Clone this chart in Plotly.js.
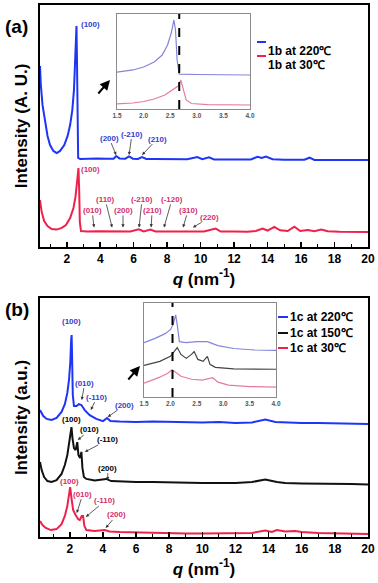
<!DOCTYPE html>
<html><head><meta charset="utf-8">
<script src="https://cdn.plot.ly/plotly-3.0.1.min.js"></script>
<style>html,body{margin:0;padding:0;background:#fff}#chart{width:378px;height:583px}</style>
</head><body><div id="chart"></div>
<script>
// ---------- Panel (a) main data ----------
const qA_220 = [0.4,0.45,0.55,0.7,0.85,1.0,1.2,1.4,1.6,1.85,2.05,2.2,2.33,2.43,2.5,2.55,2.58,2.61,2.64,2.68,2.8,3.2,3.8,4.4,4.8,4.95,5.15,5.5,5.72,5.95,6.25,6.5,6.75,7.2,7.8,8.5,9.2,9.8,10.1,10.5,10.8,11.5,12.3,13.0,13.4,13.65,13.9,14.3,15.0,15.7,16.2,16.5,16.8,17.5,18.3,19.2,20.0];
const iA_220 = [74.8,66.9,58.7,51.7,45.9,42.1,39.7,38.8,39.7,42.1,45.9,50.4,56.6,64.9,75.2,85.5,91.3,77.3,48.3,36.8,36.4,36.6,36.6,36.5,36.5,37.6,36.6,36.5,37.4,36.5,36.4,37.2,36.4,36.4,36.3,36.3,36.3,37.2,36.3,37.1,36.2,36.2,36.2,36.2,37.3,36.8,37.4,36.3,36.1,36.1,36.1,36.9,36.0,36.0,36.0,36.0,35.9];
const qA_30 = [0.4,0.5,0.65,0.85,1.1,1.4,1.7,1.95,2.2,2.4,2.52,2.62,2.7,2.74,2.78,2.85,3.2,3.8,4.5,5.2,5.8,6.3,6.6,7.0,7.3,8.0,8.8,9.5,10.2,10.9,11.2,12.0,12.8,13.3,13.7,14.0,14.4,14.75,15.2,15.6,15.95,16.4,16.8,17.2,17.6,18.3,19.2,20.0];
const iA_30 = [19.4,14.5,10.7,8.7,7.4,7.2,7.9,9.1,12.0,16.1,20.7,26.9,32.6,23.6,10.3,6.6,6.4,6.5,6.5,6.4,6.4,7.3,6.4,7.2,6.4,6.4,6.4,6.4,6.4,7.6,6.4,6.4,6.3,6.6,7.6,6.8,8.3,6.9,6.6,8.4,6.6,7.0,6.5,7.2,6.5,6.3,6.3,6.2];

// ---------- Panel (a) inset data ----------
const qAin_220 = [1.5,1.8,2.0,2.2,2.35,2.45,2.52,2.57,2.6,2.63,2.67,3.0,4.0];
const iAin_220 = [38.9,41.1,44.2,49.5,56.8,67.4,80.0,93.7,83.2,51.6,36.8,36.3,35.8];
const qAin_30 = [1.5,1.8,2.0,2.2,2.4,2.55,2.65,2.7,2.74,2.8,2.9,3.2,4.0];
const iAin_30 = [5.3,6.3,7.9,10.5,14.7,20.0,24.2,30.5,22.1,9.5,5.8,4.7,4.2];
const dashA = 2.67;

// ---------- Panel (b) main data ----------
const qB_220 = [0.2,0.4,0.6,0.9,1.2,1.5,1.7,1.85,1.95,2.03,2.08,2.11,2.14,2.18,2.25,2.4,2.55,2.7,2.9,3.2,3.6,4.0,4.25,4.45,5,6,7,8,9,10,11,12,13,13.8,14.4,15,16,17,18,19,20];
const iB_220 = [53.1,50.6,49.4,49.0,49.8,52.3,55.6,60.3,65.7,73.2,82.4,84.5,74.1,59.4,54.8,54.8,55.6,55.2,53.1,51.0,49.4,48.5,49.8,48.5,48.3,48.1,48.3,48.1,47.9,47.9,48.1,47.7,47.9,49.2,48.1,47.9,47.7,47.7,47.5,47.5,47.3];
const qB_150 = [0.2,0.3,0.45,0.65,0.9,1.2,1.5,1.7,1.85,1.97,2.05,2.1,2.16,2.25,2.35,2.45,2.52,2.62,2.7,2.76,2.85,3.0,3.5,4.2,4.5,5,6,7,8,9,10,11,12,13,13.8,14.5,15,16,17,18,19,20];
const iB_150 = [31.4,28.0,25.1,23.4,23.0,23.8,26.4,30.1,34.3,39.3,43.9,46.0,41.4,37.2,36.4,39.7,34.3,33.1,35.6,28.9,25.1,24.3,23.6,24.3,23.4,23.2,23.0,23.0,22.8,22.6,22.6,22.6,22.6,23.0,24.1,23.0,22.6,22.4,22.4,22.2,22.2,22.0];
const qB_30 = [0.2,0.35,0.55,0.85,1.2,1.5,1.7,1.85,1.95,2.02,2.1,2.2,2.35,2.5,2.6,2.72,2.8,2.88,3.0,3.5,4.1,4.4,5,6,7,8,9,10,11,12,13,13.8,14.2,14.5,15,15.6,16,17,18,20];
const iB_30 = [6.7,5.0,3.8,2.9,3.3,5.4,8.8,13.0,17.6,20.9,16.3,11.3,9.2,7.5,7.1,8.8,8.8,4.6,2.9,2.5,2.9,2.3,2.1,1.9,1.7,1.5,1.5,1.5,1.5,1.5,1.7,2.7,2.1,2.9,2.3,2.5,2.1,1.7,1.5,1.3];

// ---------- Panel (b) inset data ----------
const qBin_220 = [1.5,1.7,1.9,2.0,2.05,2.1,2.13,2.17,2.3,2.5,2.7,2.9,3.2,3.6,4.0];
const iBin_220 = [57.9,62.1,67.4,71.6,76.8,87.4,76.8,58.9,57.9,58.9,58.9,54.7,51.6,50.0,49.5];
const qBin_150 = [1.5,1.8,2.0,2.08,2.13,2.2,2.3,2.4,2.45,2.52,2.62,2.7,2.75,2.85,3.2,4.0];
const iBin_150 = [33.7,37.9,43.2,48.4,52.6,45.3,41.1,45.3,48.4,40.0,37.9,43.2,34.7,31.6,30.0,29.5];
const qBin_30 = [1.5,1.8,1.95,2.03,2.1,2.2,2.4,2.6,2.8,2.9,3.1,3.5,4.0];
const iBin_30 = [14.7,21.1,25.3,28.9,26.3,22.1,18.9,17.9,20.5,15.8,12.6,11.1,10.5];
const dashB = 2.04;

// ---------- Names / labels ----------
const namesA = ['1b at 220\u2103', '1b at 30\u2103'];
const namesB = ['1c at 220\u2103', '1c at 150\u2103', '1c at 30\u2103'];
const xTickVals = [2,4,6,8,10,12,14,16,18,20];
const insetTickVals = [1.5,2.0,2.5,3.0,3.5,4.0];

// peak index labels: [text, q, intensity]
const labA_220 = [['(200)',4.95,38.0],['(-210)',5.72,38.0],['(210)',6.50,38.0]];
const labA_30 = [['(010)',3.63,8.1],['(110)',4.71,8.1],['(200)',5.36,8.1],['(-210)',6.32,8.1],['(210)',7.04,8.1],['(-120)',7.81,8.1],['(310)',8.95,8.1],['(220)',9.54,8.1]];
const labB_220 = [['(010)',2.72,57.3],['(-110)',3.27,53.1],['(200)',4.29,50.2]];
const labB_150 = [['(010)',2.48,40.6],['(-110)',2.91,35.6],['(200)',4.29,23.8]];
const labB_30 = [['(010)',2.42,10.0],['(-110)',2.97,8.4],['(200)',4.17,3.8]];
const peakA = [['(100)',3.39,92.1],['(100)',3.39,32.2]];
const peakB = [['(100)',2.12,90.0],['(100)',2.12,49.0],['(100)',2.0,23.4]];

// ---------- styles ----------
const W = 378, H = 583;
const X = px => px / W, Y = py => 1 - py / H;
const BLUE = '#1f35f5', RED = '#f0204c', BLACK = '#111';
const BLUE_L = '#3440d0', RED_L = '#d42e6c';
const BLUE_IN = '#8484dc', RED_IN = '#e47aa6', BLACK_IN = '#444';
const FONT = 'Arial, "Liberation Sans", sans-serif';

const traces = [
  {x:qA_220, y:iA_220, xaxis:'x', yaxis:'y', mode:'lines', line:{color:BLUE,width:2}, name:namesA[0]},
  {x:qA_30, y:iA_30, xaxis:'x', yaxis:'y', mode:'lines', line:{color:RED,width:2}, name:namesA[1]},
  {x:qAin_220, y:iAin_220, xaxis:'x3', yaxis:'y3', mode:'lines', line:{color:BLUE_IN,width:1.2}, name:namesA[0]},
  {x:qAin_30, y:iAin_30, xaxis:'x3', yaxis:'y3', mode:'lines', line:{color:RED_IN,width:1.2}, name:namesA[1]},
  {x:qB_220, y:iB_220, xaxis:'x2', yaxis:'y2', mode:'lines', line:{color:BLUE,width:2}, name:namesB[0]},
  {x:qB_150, y:iB_150, xaxis:'x2', yaxis:'y2', mode:'lines', line:{color:BLACK,width:2}, name:namesB[1]},
  {x:qB_30, y:iB_30, xaxis:'x2', yaxis:'y2', mode:'lines', line:{color:RED,width:2}, name:namesB[2]},
  {x:qBin_220, y:iBin_220, xaxis:'x4', yaxis:'y4', mode:'lines', line:{color:BLUE_IN,width:1.2}, name:namesB[0]},
  {x:qBin_150, y:iBin_150, xaxis:'x4', yaxis:'y4', mode:'lines', line:{color:BLACK_IN,width:1.2}, name:namesB[1]},
  {x:qBin_30, y:iBin_30, xaxis:'x4', yaxis:'y4', mode:'lines', line:{color:RED_IN,width:1.2}, name:namesB[2]}
];
traces.forEach(t => { t.showlegend = false; t.hoverinfo = 'skip'; });

function mainX(range, anchor) {
  return {
    domain:[X(40), X(368)], anchor:anchor, range:range,
    showline:true, mirror:true, linecolor:'#000', linewidth:2,
    ticks:'inside', ticklen:5, tickwidth:1.5, tickcolor:'#000',
    tickvals:xTickVals, ticktext:xTickVals.map(String),
    minor:{dtick:1, tick0:0, ticks:'inside', ticklen:3, tickwidth:1, tickcolor:'#000', showgrid:false},
    tickfont:{family:FONT, size:12, color:'#000', weight:'bold'},
    showgrid:false, zeroline:false,
    title:{text:'<b><i>q</i> (nm<sup>-1</sup>)</b>', font:{family:FONT, size:17, color:'#000'}, standoff:3}
  };
}
function mainY(domain, anchor, title) {
  return {
    domain:domain, anchor:anchor, range:[0,100],
    showline:true, mirror:true, linecolor:'#000', linewidth:2,
    ticks:'', showticklabels:false, showgrid:false, zeroline:false,
    title:{text:'<b>'+title+'</b>', font:{family:FONT, size:17, color:'#000'}, standoff:6}
  };
}
function insetX(domain, anchor) {
  return {
    domain:domain, anchor:anchor, range:[1.5,4.0],
    showline:true, mirror:true, linecolor:'#8a8a8a', linewidth:1,
    ticks:'', tickvals:insetTickVals, ticktext:insetTickVals.map(v=>v.toFixed(1)),
    tickfont:{family:FONT, size:6.5, color:'#555', weight:'bold'},
    showgrid:false, zeroline:false
  };
}
function insetY(domain, anchor) {
  return {
    domain:domain, anchor:anchor, range:[0,100],
    showline:true, mirror:true, linecolor:'#8a8a8a', linewidth:1,
    ticks:'', showticklabels:false, showgrid:false, zeroline:false
  };
}

const annotations = [];
function lab(list, xr, yr, color, offs) {
  list.forEach((l, k) => {
    annotations.push({
      xref:xr, yref:yr, x:l[1], y:l[2], text:'<b>'+l[0]+'</b>',
      showarrow:true, ax:offs[k][0], ay:offs[k][1],
      arrowhead:2, arrowsize:0.8, arrowwidth:0.8, arrowcolor:'#333', standoff:0, startstandoff:0,
      font:{family:FONT, size:8, color:color}, borderpad:0
    });
  });
}
lab(labA_220, 'x', 'y', BLUE_L, [[-7,-17],[3,-21],[15,-16]]);
lab(labA_30, 'x', 'y', RED_L, [[-2,-17],[-7,-28],[0,-17],[3,-28],[1,-17],[8,-28],[5,-17],[17,-10]]);
lab(labB_220, 'x2', 'y2', BLUE_L, [[3,-17],[6,-13],[17,-12]]);
lab(labB_150, 'x2', 'y2', '#000', [[12,-10],[23,-12],[0,-12]]);
lab(labB_30, 'x2', 'y2', RED_L, [[6,-19],[19,-16],[11,-13]]);
const peakColorsA = [BLUE_L, RED_L], peakColorsB = [BLUE_L, '#000', RED_L];
peakA.forEach((p,k) => annotations.push({xref:'x', yref:'y', x:p[1], y:p[2], text:'<b>'+p[0]+'</b>', showarrow:false, font:{family:FONT,size:8,color:peakColorsA[k]}}));
peakB.forEach((p,k) => annotations.push({xref:'x2', yref:'y2', x:p[1], y:p[2], text:'<b>'+p[0]+'</b>', showarrow:false, font:{family:FONT,size:8,color:peakColorsB[k]}}));

// panel letters
annotations.push({xref:'paper', yref:'paper', x:X(3), y:Y(14), xanchor:'left', text:'<b>(a)</b>', showarrow:false, font:{family:FONT,size:19,color:'#000'}});
annotations.push({xref:'paper', yref:'paper', x:X(3), y:Y(309), xanchor:'left', text:'<b>(b)</b>', showarrow:false, font:{family:FONT,size:19,color:'#000'}});
// arrows pointing to insets
annotations.push({xref:'paper', yref:'paper', x:X(110), y:Y(80), ax:-13, ay:15, text:'', showarrow:true, arrowhead:2, arrowsize:1, arrowwidth:2, arrowcolor:'#000'});
annotations.push({xref:'paper', yref:'paper', x:X(140), y:Y(366), ax:-13, ay:15, text:'', showarrow:true, arrowhead:2, arrowsize:1, arrowwidth:2, arrowcolor:'#000'});

// legends (manual)
const shapes = [];
function legend(names, colors, rows, x0, x1, xt) {
  names.forEach((n, k) => {
    shapes.push({type:'line', xref:'paper', yref:'paper', x0:X(x0), x1:X(x1), y0:Y(rows[k]), y1:Y(rows[k]), line:{color:colors[k], width:2}});
    annotations.push({xref:'paper', yref:'paper', x:X(xt), y:Y(rows[k]), xanchor:'left', text:'<b>'+n+'</b>', showarrow:false, font:{family:FONT,size:12,color:'#000'}});
  });
}
legend(namesA, [BLUE, RED], [42, 56], 257, 266, 266);
legend(namesB, [BLUE, BLACK, RED], [317, 333, 348], 278, 288, 288);

// dashed guide lines in insets
shapes.push({type:'line', xref:'x3', yref:'y3 domain', x0:dashA, x1:dashA, y0:0, y1:1, line:{color:'#000', width:2, dash:'dash'}});
shapes.push({type:'line', xref:'x4', yref:'y4 domain', x0:dashB, x1:dashB, y0:0, y1:1, line:{color:'#000', width:2, dash:'dash'}});

const layout = {
  width:W, height:H, margin:{l:0,r:0,t:0,b:0},
  paper_bgcolor:'#fff', plot_bgcolor:'rgba(0,0,0,0)',
  showlegend:false,
  font:{family:FONT, color:'#000'},
  xaxis: mainX([0.4,20], 'y'),
  yaxis: mainY([Y(247), Y(5)], 'x', 'Intensity (A. U.)'),
  xaxis2: mainX([0.2,20], 'y2'),
  yaxis2: mainY([Y(537), Y(298)], 'x2', 'Intensity (a.u.)'),
  xaxis3: insetX([X(117), X(250)], 'y3'),
  yaxis3: insetY([Y(109), Y(14)], 'x3'),
  xaxis4: insetX([X(144), X(276)], 'y4'),
  yaxis4: insetY([Y(397), Y(303)], 'x4'),
  annotations: annotations,
  shapes: shapes
};
Plotly.newPlot('chart', traces, layout, {staticPlot:true, displayModeBar:false});
</script></body></html>
